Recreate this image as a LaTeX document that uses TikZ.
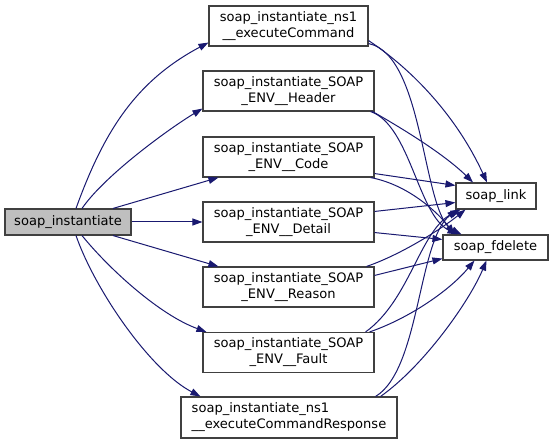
\documentclass[tikz,border=0pt]{standalone}
\usepackage{fontspec}
\setmainfont{DejaVu Sans}
\usetikzlibrary{arrows.meta}
\definecolor{edgec}{HTML}{191970}
\definecolor{bordc}{HTML}{404040}
\definecolor{rootc}{HTML}{BFBFBF}
\tikzset{
 box/.style={draw=bordc, line width=1.1bp, fill=white, inner sep=0pt, font=\fontsize{13.1}{16.2}\selectfont, align=center, text=black},
 midbox/.style={box, minimum width=171bp, minimum height=40bp},
 edge/.style={draw=edgec, line width=1bp, -{Triangle[length=10bp,width=7bp]}}
}
\begin{document}
\begin{tikzpicture}[x=1bp,y=-1bp]
\useasboundingbox (0,0) rectangle (553,444);
\fill[white] (0,0) rectangle (553,444);
\node[box, fill=rootc, minimum width=126bp, minimum height=26bp] (inst) at (68,222) {soap\_instantiate};
\node[box, minimum width=159bp, minimum height=40bp] (cmd) at (288.5,26) {soap\_instantiate\_ns1\\\_\_executeCommand};
\node[midbox] (hdr) at (288.5,91) {soap\_instantiate\_SOAP\\\_ENV\_\_Header};
\node[midbox] (code) at (288.5,157) {soap\_instantiate\_SOAP\\\_ENV\_\_Code};
\node[midbox] (detail) at (288.5,222) {soap\_instantiate\_SOAP\\\_ENV\_\_Detail};
\node[midbox] (reason) at (288.5,287) {soap\_instantiate\_SOAP\\\_ENV\_\_Reason};
\node[midbox] (fault) at (288.5,352.5) {soap\_instantiate\_SOAP\\\_ENV\_\_Fault};
\node[box, align=left, minimum width=216bp, minimum height=41bp] (resp) at (289,417.5) {soap\_instantiate\_ns1\\\_\_executeCommandResponse};
\node[box, minimum width=80bp, minimum height=26bp] (link) at (496,196) {soap\_link};
\node[box, minimum width=105bp, minimum height=25bp] (fdel) at (495.5,247.5) {soap\_fdelete};
% left edges
\draw[edge] ([xshift=8bp]inst.north) .. controls (104,131) and (136,81) .. ([yshift=4bp]cmd.south west);
\draw[edge] ([xshift=14bp]inst.north) .. controls (105,175) and (170,128) .. ([yshift=3bp]hdr.south west);
\draw[edge] ([xshift=45bp]inst.north) -- ([xshift=16bp]code.south west);
\draw[edge] (inst.east) -- (detail.west);
\draw[edge] ([xshift=45bp]inst.south) -- ([xshift=16bp]reason.north west);
\draw[edge] ([xshift=14bp]inst.south) .. controls (110,270) and (160,315) .. ([xshift=4bp]fault.north west);
\draw[edge] ([xshift=8bp]inst.south) .. controls (95,290) and (150,370) .. ([xshift=20bp]resp.north west);
% right edges
\draw[edge] ([yshift=6bp]cmd.south east) .. controls (413,70) and (457,117) .. ([xshift=-9bp]link.north);
\draw[edge] ([yshift=3bp]cmd.south east) .. controls (425,55) and (422,215) .. ([xshift=19bp]fdel.north west);
\draw[edge] ([xshift=-2bp]hdr.south east) .. controls (405,130) and (445,155) .. ([xshift=-23bp]link.north);
\draw[edge] ([xshift=-4bp]hdr.south east) .. controls (410,125) and (418,215) .. ([xshift=15bp]fdel.north west);
\draw[edge] ([yshift=4bp]code.south east) -- ([yshift=-3bp]link.north west);
\draw[edge] ([xshift=-4bp]code.south east) .. controls (410,185) and (440,215) .. ([xshift=12bp]fdel.north west);
\draw[edge] ([yshift=-10bp]detail.north east) -- ([yshift=7bp]link.south west);
\draw[edge] ([yshift=10bp]detail.south east) -- ([yshift=-5bp]fdel.north west);
\draw[edge] ([xshift=-8bp]reason.north east) .. controls (400,255) and (440,230) .. ([xshift=10bp]link.south west);
\draw[edge] ([yshift=-9bp]reason.north east) -- ([yshift=2bp]fdel.south west);
\draw[edge] ([xshift=-9bp]fault.north east) .. controls (410,300) and (420,230) .. ([xshift=5bp]link.south west);
\draw[edge] ([xshift=-5bp]fault.north east) .. controls (410,318) and (450,290) .. ([xshift=32bp]fdel.south west);
\draw[edge] ([xshift=-22bp]resp.north east) .. controls (420,370) and (418,240) .. ([xshift=2bp]link.south west);
\draw[edge] ([xshift=-17bp]resp.north east) .. controls (425,365) and (470,300) .. ([xshift=44bp]fdel.south west);
\end{tikzpicture}
\end{document}
